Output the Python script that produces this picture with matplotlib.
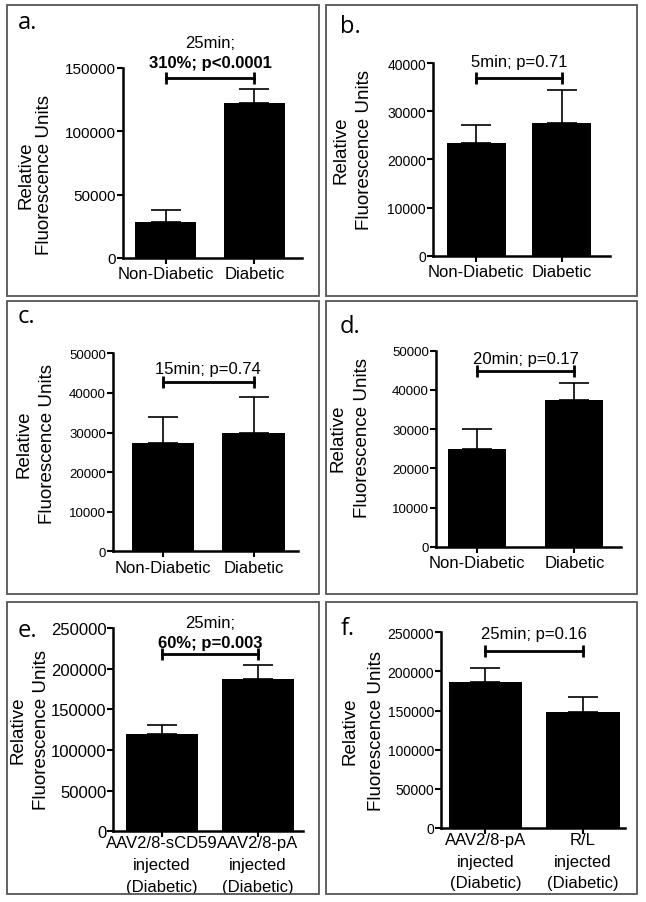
import matplotlib.pyplot as plt
from matplotlib.patches import Rectangle

W, H = 646, 903

# ---- data ----
cats_diab = ["Non-Diabetic", "Diabetic"]
cats_e = ["AAV2/8-sCD59\ninjected\n(Diabetic)", "AAV2/8-pA\ninjected\n(Diabetic)"]
cats_f = ["AAV2/8-pA\ninjected\n(Diabetic)", "R/L\ninjected\n(Diabetic)"]

means_a = [28700, 122600]
sem_a = [9400, 10600]
means_b = [23300, 27500]
sem_b = [3900, 6900]
means_c = [27300, 30000]
sem_c = [6700, 8900]
means_d = [24900, 37400]
sem_d = [5100, 4300]
means_e = [119300, 187300]
sem_e = [11400, 17200]
means_f = [186100, 148600]
sem_f = [17900, 19100]

ymax = [150000, 40000, 50000, 50000, 250000, 250000]
ystep = [50000, 10000, 10000, 10000, 50000, 50000]

notes = [
    [("25min;", "normal"), ("310%; p<0.0001", "bold")],
    [("5min; p=0.71", "normal")],
    [("15min; p=0.74", "normal")],
    [("20min; p=0.17", "normal")],
    [("25min;", "normal"), ("60%; p=0.003", "bold")],
    [("25min; p=0.16", "normal")],
]
letters = ["a.", "b.", "c.", "d.", "e.", "f."]
ylabel = "Relative\nFluorescence Units"

# ---- layout (pixels) ----
boxes = [(7, 6, 319, 297), (326, 6, 637, 297),
         (7, 302, 319, 595), (326, 302, 637, 595),
         (7, 603, 319, 895), (326, 603, 637, 895)]
# left, zero-line y, right, top y
axpos = [(123, 259, 302, 69), (433, 256.7, 610, 64),
         (113, 552.3, 298, 354.3), (436, 547.7, 620.7, 351.7),
         (113.3, 832.3, 303, 629), (441.3, 829, 624.7, 633.3)]
xlims = [(-0.478, 1.534), (-0.508, 1.569), (-0.552, 1.49),
         (-0.426, 1.478), (-0.511, 1.473), (-0.453, 1.428)]
bar_w = [0.685, 0.687, 0.69, 0.6, 0.75, 0.75]
ytick_fs = [11, 10, 9.5, 9.5, 12, 10]
bracket_y = [142100, 36900, 42700, 44700, 218000, 226500]
note_y = [[166300, 150500], [39400], [45000], [46800], [251200, 226600], [242300]]
letter_pos = [(18, 29), (340, 33), (18, 323), (340, 333), (18, 637), (341, 635)]
ylab_pos = [(35, 175), (353, 150), (36, 444), (350, 438), (30, 730), (363, 731)]
ylab_ls = [1.1, 1.5, 1.5, 1.6, 1.5, 1.75]

plt.rcParams['font.family'] = ['Liberation Sans', 'DejaVu Sans']

fig = plt.figure(figsize=(W / 100, H / 100), dpi=100)


def fx(px):
    return px / W


def fy(py):
    return 1 - py / H


for (x0, y0, x1, y1) in boxes:
    fig.patches.append(Rectangle((fx(x0), fy(y1)), (x1 - x0) / W, (y1 - y0) / H,
                                 transform=fig.transFigure, fill=False,
                                 edgecolor="#555555", linewidth=1.3))

series = [(cats_diab, means_a, sem_a), (cats_diab, means_b, sem_b),
          (cats_diab, means_c, sem_c), (cats_diab, means_d, sem_d),
          (cats_e, means_e, sem_e), (cats_f, means_f, sem_f)]

for i, (cats, means, sems) in enumerate(series):
    l, b, r, t = axpos[i]
    ax = fig.add_axes([fx(l), fy(b), (r - l) / W, (b - t) / H])
    x = list(range(len(cats)))
    ax.bar(x, means, width=bar_w[i], color="black", zorder=2)
    ax.errorbar(x, means, yerr=[[0] * len(sems), sems], fmt="none",
                ecolor="black", elinewidth=1.2, capsize=11, capthick=1.2, zorder=1)
    ax.set_xlim(*xlims[i])
    ax.set_ylim(0, ymax[i])
    ax.set_yticks(range(0, ymax[i] + 1, ystep[i]))
    ax.tick_params(axis="y", labelsize=ytick_fs[i], length=4, width=1.5, pad=1)
    ax.set_xticks(x, cats)
    multi = "\n" in cats[0]
    ax.tick_params(axis="x", labelsize=12, length=4, width=1.5,
                   pad=-1 if multi else 2)
    for lab in ax.get_xticklabels():
        lab.set_linespacing(1.55)
    for s in ("top", "right"):
        ax.spines[s].set_visible(False)
    for s in ("left", "bottom"):
        ax.spines[s].set_linewidth(1.8)
    ax.patch.set_visible(False)

    # significance bracket
    ax.plot([0, 1], [bracket_y[i]] * 2, color="black", lw=2, marker="|",
            ms=9, mew=2, clip_on=False)
    for (txt, wt), yv in zip(notes[i], note_y[i]):
        ax.text(0.5, yv, txt, ha="center", va="baseline", fontsize=12,
                fontweight=wt, clip_on=False)

    fig.text(fx(letter_pos[i][0]), fy(letter_pos[i][1]), letters[i],
             family="Open Sans", fontsize=17, ha="left", va="baseline")
    fig.text(fx(ylab_pos[i][0]), fy(ylab_pos[i][1]), ylabel, rotation=90,
             ha="center", va="center", fontsize=13.5, multialignment="center",
             linespacing=ylab_ls[i])

fig.savefig("out.png", dpi=100)
